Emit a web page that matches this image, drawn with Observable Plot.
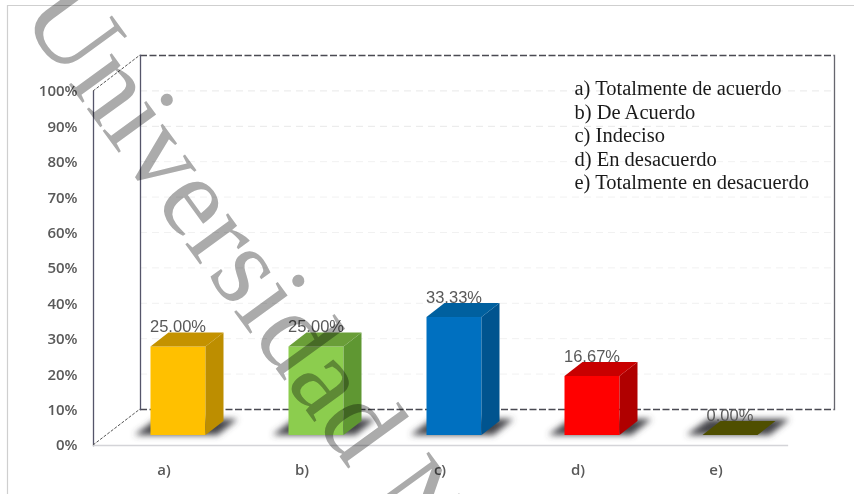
<!DOCTYPE html>
<html><head><meta charset="utf-8">
<style>html,body{margin:0;padding:0;background:#fff}svg{display:block}</style>
<script src="https://cdn.jsdelivr.net/npm/d3@7"></script>
<script src="https://cdn.jsdelivr.net/npm/@observablehq/plot@0.6"></script>
</head><body><script>
const categories = ["a)", "b)", "c)", "d)", "e)"];
const values = [25.00, 25.00, 33.33, 16.67, 0.00];
const valueLabels = ["25.00%", "25.00%", "33.33%", "16.67%", "0.00%"];
const frontColors = ["#ffc000", "#8ccd4e", "#0070c0", "#ff0000", "#4f4f00"];
const sideColors = ["#bd8e00", "#5f9732", "#00548f", "#b00000", "#4f4f00"];
const topColors = ["#c49200", "#6a9e38", "#00609f", "#c80000", "#4f4f00"];
const yTicks = [0, 10, 20, 30, 40, 50, 60, 70, 80, 90, 100];
const legendLines = ["a) Totalmente de acuerdo", "b) De Acuerdo", "c) Indeciso", "d) En desacuerdo", "e) Totalmente en desacuerdo"];
const watermark = "Universidad N";

const rows = categories.map((c, i) => ({c, v: values[i], label: valueLabels[i], front: frontColors[i], side: sideColors[i], top: topColors[i]}));
const W = 854, H = 494;
const wall = {dx: 47, dy: -36};      // depth of the walls
const barShift = {dx: 14.5, dy: -10}; // bars stand inside the floor
const depth = {dx: 18, dy: -14};     // depth of a bar
const SVGNS = "http://www.w3.org/2000/svg";

function poly(g, pts, fill, extra = {}) {
  const p = document.createElementNS(SVGNS, "polygon");
  p.setAttribute("points", pts.map(d => d.join(",")).join(" "));
  p.setAttribute("fill", fill);
  for (const k in extra) p.setAttribute(k, extra[k]);
  g.appendChild(p);
}
function barGeom(scales, r) {
  const x0 = scales.x(r.c) + barShift.dx, w = scales.x.bandwidth();
  return {x0, x1: x0 + w, yb: scales.y(0) + barShift.dy, yt: scales.y(r.v) + barShift.dy};
}
// soft shadows on the floor
const shadowMark = (index, scales) => {
  const g = document.createElementNS(SVGNS, "g");
  const defs = document.createElementNS(SVGNS, "defs");
  defs.innerHTML = '<filter id="soft" x="-30%" y="-60%" width="160%" height="220%"><feGaussianBlur stdDeviation="3"/></filter>';
  g.appendChild(defs);
  for (const r of rows) {
    const b = barGeom(scales, r);
    poly(g, [[b.x0 - 16, b.yb], [b.x1 + 12, b.yb], [b.x1 + 32, b.yb - 16], [b.x0 + 6, b.yb - 16]], "#44444a", {filter: "url(#soft)"});
  }
  return g;
};
// dashed edges joining the front and the back wall
const diagonalMark = (index, scales) => {
  const g = document.createElementNS(SVGNS, "g");
  const xl = scales.x.range()[0];
  for (const v of [0, 100]) {
    const l = document.createElementNS(SVGNS, "line");
    const y = scales.y(v);
    l.setAttribute("x1", xl); l.setAttribute("y1", y);
    l.setAttribute("x2", xl + wall.dx); l.setAttribute("y2", y + wall.dy);
    l.setAttribute("stroke", "#555"); l.setAttribute("stroke-width", 1);
    l.setAttribute("stroke-dasharray", "3 1.5");
    g.appendChild(l);
  }
  return g;
};
// side and top faces of each bar
const facesMark = (index, scales) => {
  const g = document.createElementNS(SVGNS, "g");
  for (const r of rows) {
    const b = barGeom(scales, r);
    if (r.v > 0) poly(g, [[b.x1, b.yb], [b.x1 + depth.dx, b.yb + depth.dy], [b.x1 + depth.dx, b.yt + depth.dy], [b.x1, b.yt]], r.side);
    poly(g, [[b.x0, b.yt], [b.x1, b.yt], [b.x1 + depth.dx, b.yt + depth.dy], [b.x0 + depth.dx, b.yt + depth.dy]], r.top);
  }
  return g;
};

const chart = Plot.plot({
  width: W, height: H,
  marginLeft: 93, marginRight: W - 787, marginTop: 91, marginBottom: H - 445,
  style: {background: "#fff", overflow: "hidden"},
  x: {domain: categories, paddingInner: 0.6, paddingOuter: 0.3, label: null},
  y: {domain: [0, 100], label: null},
  marks: [
    // chart area border
    () => {
      const p = document.createElementNS(SVGNS, "path");
      p.setAttribute("d", "M7.5," + H + "V5.5H" + W);
      p.setAttribute("fill", "none"); p.setAttribute("stroke", "#cfcfcf"); p.setAttribute("stroke-width", 1.2);
      return p;
    },
    // faint back wall gridlines
    Plot.ruleY(yTicks.filter(d => d > 0 && d < 100), {y: d => d, ...wall, stroke: d => d >= 80 ? "a" : "b", strokeDasharray: "7 5", strokeWidth: 1}),
    Plot.ruleY([0, 100], {...wall, stroke: "#4a4a52", strokeWidth: 1.4, strokeDasharray: "7 2.5"}),
    Plot.frame({anchor: "left", ...wall, stroke: "#55556a", strokeWidth: 1.3}),
    Plot.frame({anchor: "right", ...wall, stroke: "#66666e", strokeWidth: 1.3}),
    Plot.frame({anchor: "left", stroke: "#55556a", strokeWidth: 1.3}),
    Plot.frame({anchor: "bottom", stroke: "#d4d4d8", strokeWidth: 1.3}),
    diagonalMark,
    shadowMark,
    Plot.barY(rows.filter(d => d.v > 0), {x: "c", y: "v", fill: "front", ...barShift}),
    facesMark,
    Plot.text(rows, {x: "c", y: "v", text: "label", dx: 14, dy: -30, fill: "#595959", fontSize: 16.5, fontFamily: "Liberation Sans"}),
    Plot.axisY({ticks: yTicks, tickFormat: d => d + "%", tickSize: 0, tickPadding: 16, label: null, fontSize: 15, fontFamily: "Open Sans", fill: "#595959", fontWeight: 600}),
    Plot.axisX({tickSize: 0, tickPadding: 19, label: null, fontSize: 15, fontFamily: "Open Sans", fill: "#595959", fontWeight: 600}),
    Plot.text([legendLines.join("\n")], {frameAnchor: "top-left", dx: 481, dy: -13, textAnchor: "start", lineAnchor: "top", lineHeight: 1.146, fontSize: 20.5, fontFamily: "Liberation Serif", fill: "#1a1a1a"}),
    Plot.text([watermark], {frameAnchor: "top-left", dx: -45, dy: -98, textAnchor: "start", lineAnchor: "middle", rotate: 54, fontSize: 115, fontFamily: "Liberation Serif", fill: "#ababab", mixBlendMode: "multiply"})
  ],
  color: {domain: ["a", "b"], range: ["#e8e8e8", "#f1f1f1"]}
});
document.body.appendChild(chart);
</script></body></html>
